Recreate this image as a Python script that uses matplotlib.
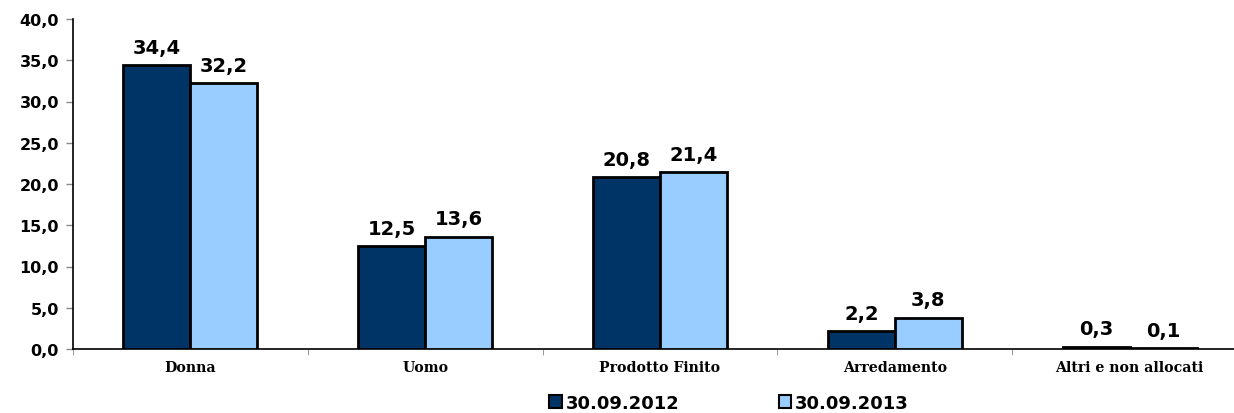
import matplotlib
matplotlib.use("Agg")
import matplotlib.pyplot as plt
import numpy as np
from matplotlib.patches import Patch

categories = ["Donna", "Uomo", "Prodotto Finito", "Arredamento", "Altri e non allocati"]
series_names = ["30.09.2012", "30.09.2013"]
values_2012 = [34.4, 12.5, 20.8, 2.2, 0.3]
values_2013 = [32.2, 13.6, 21.4, 3.8, 0.1]
yticks = [0, 5, 10, 15, 20, 25, 30, 35, 40]

dark = "#003366"
light = "#99CCFF"
num_font = ["DejaVu Sans"]
cat_font = ["DejaVu Serif"]

W, H = 1234, 414
fig = plt.figure(figsize=(W / 100, H / 100), dpi=100)
left, right, top, bottom = 73, 1247, 20, 350
ax = fig.add_axes([left / W, 1 - bottom / H, (right - left) / W, (bottom - top) / H])

x = np.arange(len(categories))
bw = 0.285
b1 = ax.bar(x - bw / 2, values_2012, bw, color=dark, edgecolor="black", linewidth=2, zorder=3)
b2 = ax.bar(x + bw / 2, values_2013, bw, color=light, edgecolor="black", linewidth=2, zorder=3)

for bars, vals in ((b1, values_2012), (b2, values_2013)):
    for r, v in zip(bars, vals):
        ax.annotate(f"{v:.1f}".replace(".", ","), (r.get_x() + r.get_width() / 2, r.get_height()),
                    xytext=(0, 6), textcoords="offset points", ha="center", va="bottom",
                    fontsize=14, fontweight="bold", family=num_font)

ax.set_xlim(-0.5, len(categories) - 0.5)
ax.set_ylim(0, 40)
ax.set_yticks(yticks)
ax.set_yticklabels([f"{t:.1f}".replace(".", ",") for t in yticks], fontsize=11.5, fontweight="bold", family=num_font)
ax.tick_params(axis="y", direction="out", length=5, color="#888888", width=1, pad=5)

ax.set_xticks(x)
ax.set_xticklabels(categories, fontsize=10.2, fontweight="bold", family=cat_font)
ax.tick_params(axis="x", length=0, pad=8)
ax.set_xticks(np.arange(len(categories) + 1) - 0.5, minor=True)
ax.tick_params(axis="x", which="minor", direction="out", length=4, color="#888888")

for s in ("top", "right"):
    ax.spines[s].set_visible(False)
ax.spines["left"].set_linewidth(1.2)
ax.spines["bottom"].set_linewidth(1.2)

handles = [Patch(facecolor=dark, edgecolor="black", linewidth=1.5),
           Patch(facecolor=light, edgecolor="black", linewidth=1.5)]
fig.legend(handles, series_names, loc="center", bbox_to_anchor=(729 / W, 1 - 404 / H), ncol=2,
           frameon=False, prop={"family": num_font, "weight": "bold", "size": 13},
           handlelength=0.7, handleheight=0.7, handletextpad=0.2, columnspacing=5.5)

fig.savefig("out.png", dpi=100)
